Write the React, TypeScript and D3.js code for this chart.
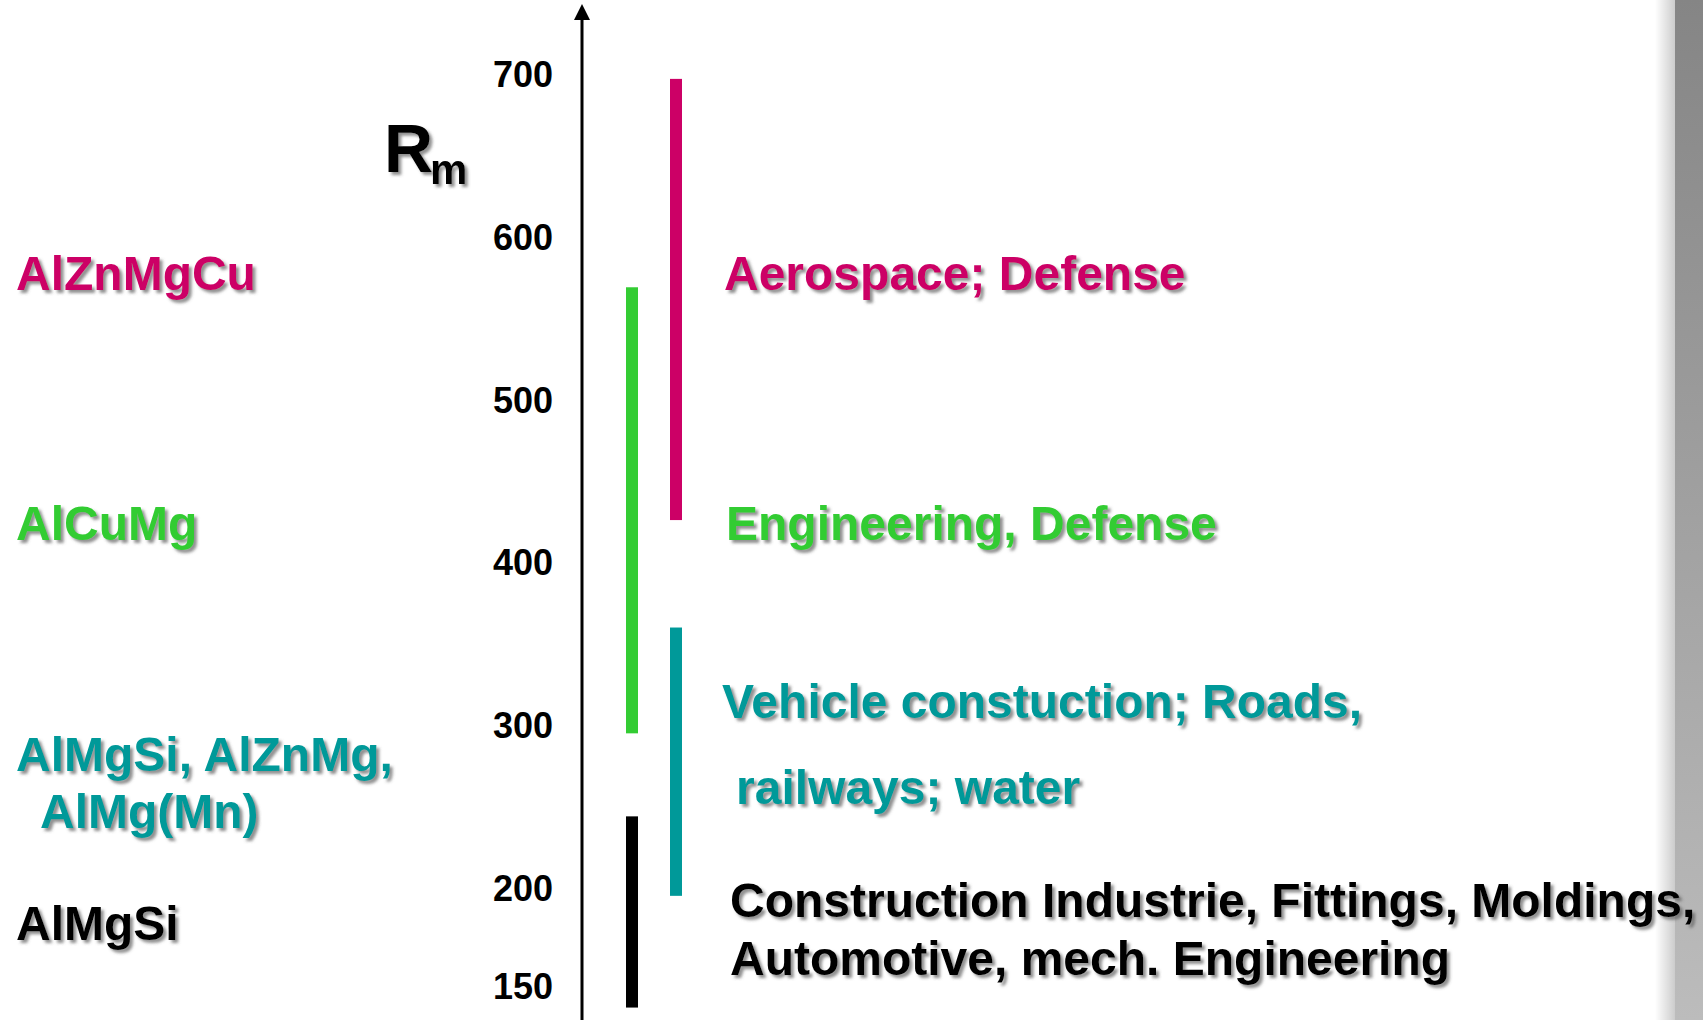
// @ts-nocheck
import React, { useEffect } from "react";
import * as d3 from "d3";

const W = 1703;
const H = 1020;

const ticks = [700, 600, 500, 400, 300, 200, 150];
const alloyNames = ["AlZnMgCu", "AlCuMg", "AlMgSi, AlZnMg,", "AlMgSi"];
const uses = ["Aerospace; Defense", "Engineering, Defense", "Vehicle constuction; Roads,", "Construction Industrie, Fittings, Moldings,"];
const lowRm = [426, 295, 196, 139];
const highRm = [697, 569, 360, 244];
const column = [1, 0, 1, 0];
const colors = ["#cc0066", "#33cc33", "#009999", "#000000"];

const font = "'Liberation Sans', Arial, Helvetica, sans-serif";

const App = () => {
  useEffect(() => {
    document.body.style.margin = "0";
  }, []);

  // piecewise: the 150 tick sits on a compressed stretch below 200
  const y = d3.scaleLinear().domain([150, 200, 700]).range([986, 888, 74]);
  const x = d3.scaleLinear().domain([0, 1]).range([632, 676]);
  const axisX = 582;

  return (
    <svg width={W} height={H} style={{ position: "absolute", left: 0, top: 0, background: "#fff" }}>
      <defs>
        <filter id="shadow" x="-5%" y="-20%" width="115%" height="150%">
          <feDropShadow dx="3" dy="3" stdDeviation="1.5" floodColor="#555" floodOpacity="0.65" />
        </filter>
        <linearGradient id="edge" x1="0" y1="0" x2="0" y2="1">
          <stop offset="0%" stopColor="#858585" />
          <stop offset="100%" stopColor="#bcbcbc" />
        </linearGradient>
        <linearGradient id="edgeShade" x1="0" y1="0" x2="1" y2="0">
          <stop offset="0%" stopColor="#000" stopOpacity="0" />
          <stop offset="100%" stopColor="#000" stopOpacity="0.2" />
        </linearGradient>
      </defs>

      {/* grey strip at the right edge */}
      <rect x={1655} y={0} width={20} height={H} fill="url(#edgeShade)" />
      <rect x={1675} y={0} width={W - 1675} height={H} fill="url(#edge)" />

      {/* axis */}
      <line x1={axisX} x2={axisX} y1={18} y2={H} stroke="#000" strokeWidth={3} />
      <path d={`M${axisX},4 L${axisX - 8},20 L${axisX + 8},20 Z`} fill="#000" />

      {ticks.map((t) => (
        <text
          key={t}
          x={553}
          y={y(t)}
          dy="0.36em"
          textAnchor="end"
          fontFamily={font}
          fontWeight="bold"
          fontSize={36}
          fill="#000"
        >
          {t}
        </text>
      ))}

      <g filter="url(#shadow)" fontFamily={font} fontWeight="bold" fill="#000">
        <text x={384} y={172} fontSize={68}>R</text>
        <text x={430} y={184} fontSize={42}>m</text>
      </g>

      {/* ranges */}
      {lowRm.map((lo, i) => (
        <rect
          key={i}
          x={x(column[i]) - 6}
          width={12}
          y={y(highRm[i])}
          height={y(lo) - y(highRm[i])}
          fill={colors[i]}
        />
      ))}

      <g filter="url(#shadow)" fontFamily={font} fontWeight="bold" fontSize={48}>
        <text x={16} y={290} fill={colors[0]}>{alloyNames[0]}</text>
        <text x={16} y={540} fill={colors[1]}>{alloyNames[1]}</text>
        <text x={16} y={771} fill={colors[2]}>{alloyNames[2]}</text>
        <text x={40} y={828} fill={colors[2]}>AlMg(Mn)</text>
        <text x={16} y={940} fill={colors[3]}>{alloyNames[3]}</text>

        <text x={724} y={290} fill={colors[0]}>{uses[0]}</text>
        <text x={726} y={540} fill={colors[1]}>{uses[1]}</text>
        <text x={722} y={718} fill={colors[2]}>{uses[2]}</text>
        <text x={736} y={804} fill={colors[2]}>railways; water</text>
        <text x={730} y={917} fill={colors[3]}>{uses[3]}</text>
        <text x={730} y={975} fill={colors[3]}>Automotive, mech. Engineering</text>
      </g>
    </svg>
  );
};

export default App;
